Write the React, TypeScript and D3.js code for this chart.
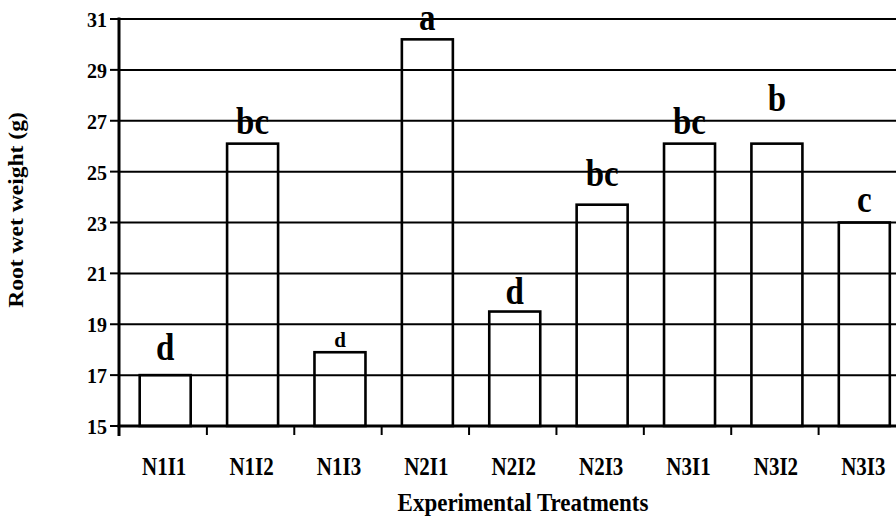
import React from "react";
import * as d3 from "d3";

const categories = ["N1I1", "N1I2", "N1I3", "N2I1", "N2I2", "N2I3", "N3I1", "N3I2", "N3I3"];
const values = [17.0, 26.1, 17.9, 30.2, 19.5, 23.7, 26.1, 26.1, 23.0];
const letters = ["d", "bc", "d", "a", "d", "bc", "bc", "b", "c"];
const yTicks = [15, 17, 19, 21, 23, 25, 27, 29, 31];

// styling per letter (pixel gap above bar, font size)
const letterGap = [15, 10, 5, 9, 8, 19, 10, 33, 11];
const letterSize = [33, 33, 21, 33, 33, 33, 33, 33, 33];

const W = 896;
const H = 516;
const FONT = "'Liberation Serif', 'Times New Roman', serif";

export default function App() {
  const x = d3.scaleBand<string>().domain(categories).range([119.5, 906]).paddingInner(0).paddingOuter(0);
  const y = d3.scaleLinear().domain([15, 31]).range([426, 19]);
  const bw = 51;
  const cx = (c: string) => (x(c) as number) + x.bandwidth() / 2 + 2;
  const SY = 1.13;

  return (
    <svg width={W} height={H} style={{ position: "absolute", left: 0, top: 0, background: "#fff" }} fontFamily={FONT} fontWeight="bold">
      <rect x={0} y={0} width={W} height={H} fill="#fff" />
      {/* gridlines */}
      {yTicks.filter((t) => t !== 15).map((t) => (
        <line key={"g" + t} x1={119} x2={W} y1={y(t)} y2={y(t)} stroke="#000" strokeWidth={2} />
      ))}
      {/* bars */}
      {categories.map((c, i) => (
        <rect key={c} x={cx(c) - bw / 2} y={y(values[i])} width={bw} height={y(15) - y(values[i])} fill="none" stroke="#000" strokeWidth={2.6} />
      ))}
      {/* axes */}
      <line x1={119} x2={119} y1={17.5} y2={436} stroke="#000" strokeWidth={3} />
      <line x1={117.5} x2={W} y1={y(15)} y2={y(15)} stroke="#000" strokeWidth={3} />
      {yTicks.map((t) => (
        <g key={"yt" + t}>
          <line x1={110} x2={119} y1={y(t)} y2={y(t)} stroke="#000" strokeWidth={2} />
          <text transform={`translate(107,${y(t) + 8}) scale(1,${1.1})`} textAnchor="end" fontSize={20}>
            {t}
          </text>
        </g>
      ))}
      {categories.map((c) => (
        <line key={"xt" + c} x1={(x(c) as number) + x.bandwidth()} x2={(x(c) as number) + x.bandwidth()} y1={426} y2={435} stroke="#000" strokeWidth={2} />
      ))}
      {categories.map((c) => (
        <text key={"xl" + c} transform={`translate(${cx(c) - 1},475) scale(1,1.2)`} textAnchor="middle" fontSize={21}>
          {c}
        </text>
      ))}
      {categories.map((c, i) => (
        <text
          key={"lt" + c}
          transform={`translate(${cx(c)},${y(values[i]) - letterGap[i]}) scale(1,${letterSize[i] > 25 ? SY : 1})`}
          textAnchor="middle"
          fontSize={letterSize[i]}
        >
          {letters[i]}
        </text>
      ))}
      <text transform={`translate(523,511) scale(1,1.1)`} textAnchor="middle" fontSize={23}>
        Experimental Treatments
      </text>
      <text transform={`translate(23,210) rotate(-90) scale(1.15,1)`} textAnchor="middle" fontSize={20.5}>
        Root wet weight (g)
      </text>
    </svg>
  );
}
